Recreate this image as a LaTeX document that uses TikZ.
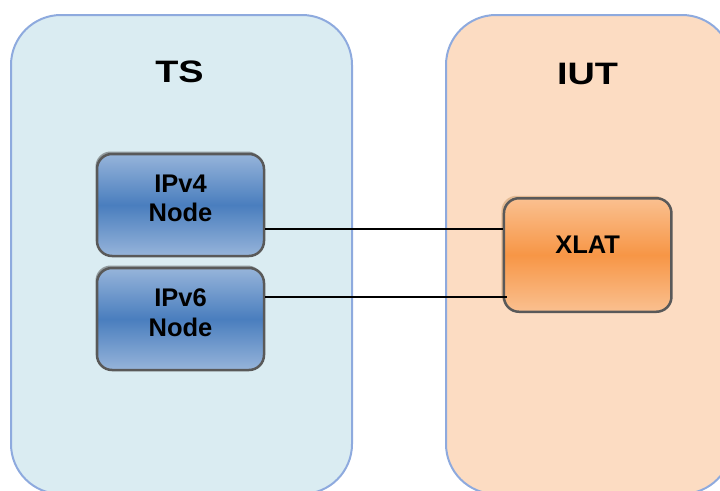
\documentclass[tikz,border=0pt]{standalone}
\usepackage{fontspec}
\setmainfont{Liberation Sans}
\usetikzlibrary{shadows}
\definecolor{tsfill}{RGB}{218,236,242}
\definecolor{iutfill}{RGB}{252,220,194}
\definecolor{frame}{RGB}{142,170,222}
\definecolor{nodeborder}{RGB}{89,89,89}
\definecolor{bluelight}{RGB}{150,180,218}
\definecolor{bluedark}{RGB}{74,126,190}
\definecolor{orangelight}{RGB}{250,192,144}
\definecolor{orangedark}{RGB}{247,150,70}
\begin{document}
\begin{tikzpicture}[x=1pt,y=-1pt,
  region/.style={draw=frame, line width=2pt, rounded corners=50pt, inner sep=0pt},
  title/.style={font=\bfseries\fontsize{31}{36}\selectfont, anchor=base, inner sep=0pt},
  devbox/.style={draw=nodeborder, line width=2.5pt, rounded corners=15pt, inner sep=0pt},
  lbl/.style={font=\bfseries\fontsize{25.5}{29.5}\selectfont, align=center, inner sep=0pt},
  bluebox/.style={devbox, minimum width=167pt, minimum height=102pt,
    top color=bluelight, bottom color=bluelight, middle color=bluedark,
    drop shadow={shadow xshift=-1.5pt, shadow yshift=2.5pt, opacity=0.5, fill=black!70}},
  orangebox/.style={devbox, minimum width=167.5pt, minimum height=113.5pt,
    top color=orangelight, bottom color=orangelight, middle color=orangedark,
    drop shadow={shadow xshift=-2.5pt, shadow yshift=2.5pt, opacity=0.5, fill=brown!80}},
  link/.style={draw=black, line width=2pt}
]
\useasboundingbox (0,0) rectangle (720,490);
\clip (0,0) rectangle (720,490);
% regions
\node[region, fill=tsfill, minimum width=341pt, minimum height=479pt] (tsbox) at (181.5,254.5) {};
\node[region, fill=iutfill, minimum width=286pt, minimum height=479pt] (iutbox) at (589,254.5) {};
\node[title] (tstitle) at (179.5,82.5) {\scalebox{1.22}[1]{TS}};
\node[title] (iuttitle) at (587.5,84.5) {\scalebox{1.22}[1]{IUT}};
% devices
\node[bluebox, label={[lbl, yshift=6.6pt]center:{IPv4\\Node}}] (ipv4) at (180.5,205) {};
\node[bluebox, label={[lbl, yshift=6.5pt]center:{IPv6\\Node}}] (ipv6) at (180.5,319) {};
\node[orangebox, label={[lbl, yshift=10pt]center:XLAT}] (xlat) at (587.7,255) {};
% links
\draw[link] ([yshift=-24pt]ipv4.east) -- ([yshift=-24pt]ipv4.east -| xlat.west);
\draw[link, line width=2.8pt] ([yshift=22pt]ipv6.east) -- ([xshift=4pt,yshift=22pt]ipv6.east -| xlat.west);
\end{tikzpicture}
\end{document}
